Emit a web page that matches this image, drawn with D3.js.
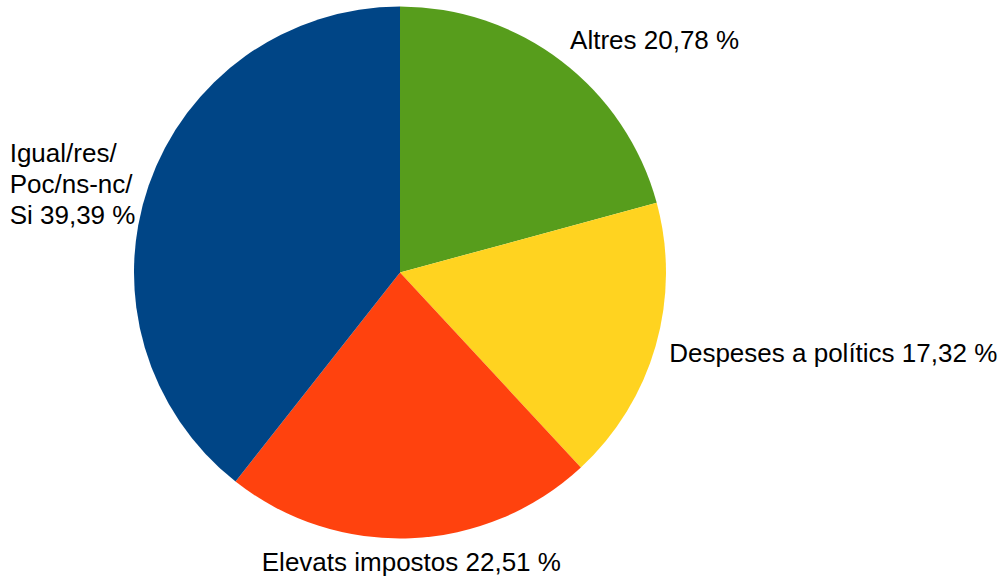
<!DOCTYPE html>
<html>
<head>
<meta charset="utf-8">
<script src="https://cdn.jsdelivr.net/npm/d3@7"></script>
<style>
  body { margin: 0; background: #fff; }
  text { font-family: "Liberation Sans", Arial, sans-serif; font-size: 26px; fill: #000; }
</style>
</head>
<body>
<div id="chart"></div>
<script>
// slices clockwise from 12 o'clock
var labels = [["Altres 20,78 %"], ["Despeses a polítics 17,32 %"], ["Elevats impostos 22,51 %"], ["Igual/res/", "Poc/ns-nc/", "Si 39,39 %"]];
var values = [20.78, 17.32, 22.51, 39.39];
var colors = ["#579d1c", "#ffd320", "#ff420e", "#004586"];

var width = 1002, height = 584;
var cx = 400, cy = 272.5, radius = 266;
var lineHeight = 31;

var svg = d3.select("#chart")
    .append("svg")
    .attr("width", width)
    .attr("height", height);

var g = svg.append("g").attr("transform", "translate(" + cx + "," + cy + ")");

var pie = d3.pie().sort(null).value(function (d) { return d; });
var arcs = pie(values);

var arc = d3.arc().innerRadius(0).outerRadius(radius);
var labelArc = d3.arc().innerRadius(280).outerRadius(280);

g.selectAll("path").data(arcs)
    .enter()
    .append("path")
    .attr("d", arc)
    .attr("fill", function (d, i) { return colors[i]; });

arcs.forEach(function (d, i) {
    var p = labelArc.centroid(d);
    var a = (d.startAngle + d.endAngle) / 2;
    var s = Math.sin(a), c = Math.cos(a);
    var lines = labels[i];
    var t = g.append("text");
    lines.forEach(function (l, j) {
        t.append("tspan").attr("x", 0).attr("dy", j === 0 ? 0 : lineHeight).text(l);
    });
    var w = d3.max(t.selectAll("tspan").nodes(), function (n) { return n.getComputedTextLength(); });
    var x;
    if (s > 0.3) x = p[0];
    else if (s < -0.3) x = p[0] - w;
    else x = p[0] - w / 2;
    var blockH = (lines.length - 1) * lineHeight;
    var y;
    if (c > 0.5) y = p[1] - blockH - 1;
    else if (c < -0.5) y = p[1] + 19;
    else y = p[1] - blockH / 2 + 12;
    if (lines.length === 1 && s > -0.3 && s < 0.3) t.attr("text-anchor", "middle"), x = p[0];
    t.attr("transform", "translate(" + x + "," + y + ")");
});
</script>
</body>
</html>
